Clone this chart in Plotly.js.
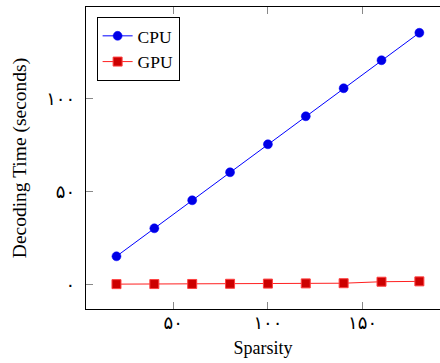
<!DOCTYPE html>
<html>
<head>
<meta charset="utf-8">
<script src="https://cdn.plot.ly/plotly-3.0.1.min.js"></script>
<style>html,body{margin:0;padding:0;background:#fff;}#chart{width:440px;height:363px;}</style>
</head>
<body>
<div id="chart"></div>
<script>
const sparsity = [20, 40, 60, 80, 100, 120, 140, 160, 180];
const cpuTime = [15.1, 30.2, 45.3, 60.4, 75.5, 90.6, 105.7, 120.8, 135.6];
const gpuTime = [0.1, 0.15, 0.2, 0.3, 0.4, 0.5, 0.6, 1.4, 1.6];
const xTickVals = [50, 100, 150];
const xTickText = ['۵۰', '۱۰۰', '۱۵۰'];
const yTickVals = [0, 50, 100];
const yTickText = ['۰', '۵۰', '۱۰۰'];

const serif = '"Liberation Serif", "DejaVu Serif", serif';
const digitFont = '"DejaVu Sans", "Noto Sans", sans-serif';

const traces = [
  {
    x: sparsity, y: cpuTime, name: 'CPU', type: 'scatter', mode: 'lines+markers',
    line: {color: '#0000ff', width: 1},
    marker: {symbol: 'circle', size: 9, color: '#0000e6', line: {color: '#0000ff', width: 0.5}}
  },
  {
    x: sparsity, y: gpuTime, name: 'GPU', type: 'scatter', mode: 'lines+markers',
    line: {color: '#ff2020', width: 1},
    marker: {symbol: 'square', size: 9, color: '#cc0000', line: {color: '#ff4040', width: 1}}
  }
];

const layout = {
  width: 440, height: 363,
  margin: {l: 86, r: 0, t: 7, b: 54},
  paper_bgcolor: '#fff', plot_bgcolor: '#fff',
  font: {family: serif, color: '#000', size: 16},
  showlegend: true,
  legend: {
    x: 0.03, y: 0.967, xanchor: 'left', yanchor: 'top',
    bordercolor: '#000', borderwidth: 1, bgcolor: '#fff',
    font: {family: serif, size: 17.5, color: '#000'},
    tracegroupgap: 0, itemwidth: 30
  },
  xaxis: {
    range: [3.9, 190.9],
    tickvals: xTickVals, ticktext: xTickText,
    ticks: 'inside', ticklen: 7, tickcolor: '#888', tickwidth: 1,
    showline: true, linecolor: '#000', linewidth: 1.2, mirror: 'ticks',
    showgrid: false, zeroline: false,
    tickfont: {family: digitFont, size: 18, color: '#000'},
    ticklabelstandoff: -3,
    title: {text: 'Sparsity', font: {family: serif, size: 18, color: '#000'}, standoff: 9}
  },
  yaxis: {
    range: [-13.3, 149.5],
    tickvals: yTickVals, ticktext: yTickText,
    ticks: 'inside', ticklen: 7, tickcolor: '#888', tickwidth: 1,
    showline: true, linecolor: '#000', linewidth: 1.2, mirror: false,
    showgrid: false, zeroline: false,
    tickfont: {family: digitFont, size: 18, color: '#000'},
    ticklabelstandoff: 6,
    title: {text: 'Decoding Time (seconds)', font: {family: serif, size: 19.5, color: '#000'}, standoff: 14}
  }
};

Plotly.newPlot('chart', traces, layout, {staticPlot: true, displayModeBar: false});
</script>
</body>
</html>
